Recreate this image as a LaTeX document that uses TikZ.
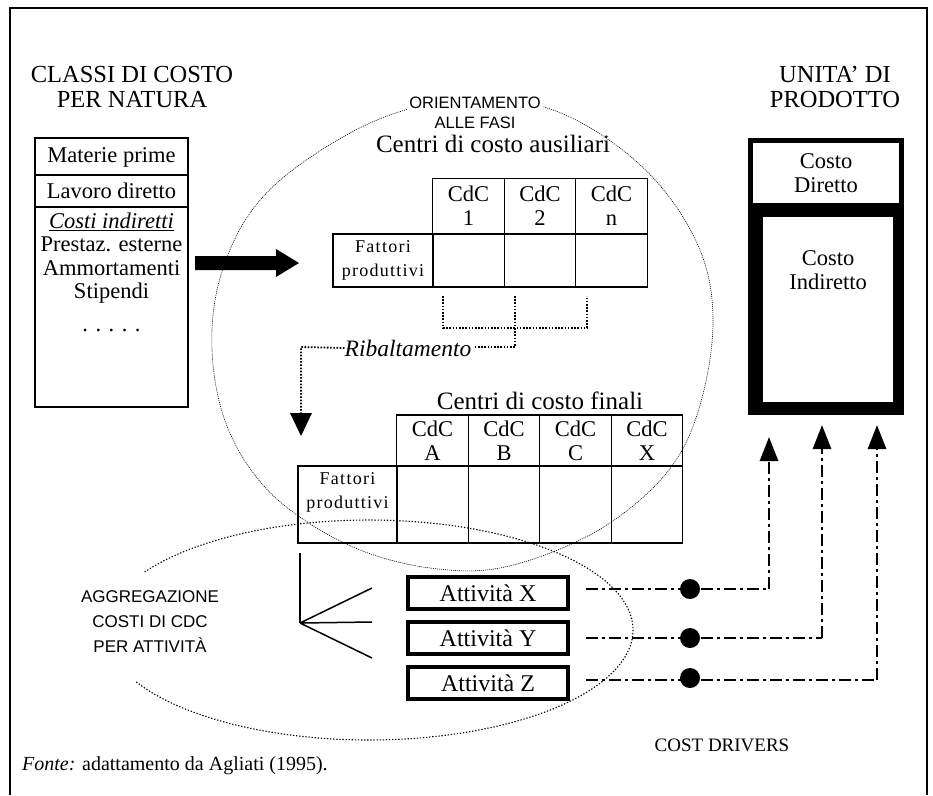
\documentclass[tikz,border=0pt]{standalone}
\usepackage{fontspec}
\setmainfont{Liberation Serif}
\newfontfamily\labelsans{Liberation Sans}
\newfontfamily\widefont[LetterSpace=7]{Liberation Serif}
\usetikzlibrary{arrows.meta}

\newcommand{\fs}[2]{\fontsize{#1}{#2}\selectfont}

\begin{document}
\begin{tikzpicture}[x=1pt,y=-1pt,
  title/.style={align=center,font=\fs{24.5}{25},inner sep=0pt},
  cell/.style={draw,line width=1.1pt,inner sep=0pt,align=center},
  hcell/.style={cell,minimum width=71.5pt,minimum height=55pt,font=\fs{22.5}{24}},
  ecell/.style={cell,minimum width=71.5pt,minimum height=53pt},
  fcell/.style={cell,minimum height=53pt,font=\widefont\fs{18}{24}},
  heading/.style={inner sep=0pt,font=\fs{25}{25}},
  boxtext/.style={inner sep=0pt,align=center,font=\fs{22.5}{23.5}},
  actbox/.style={draw,line width=3.6pt,minimum width=160pt,minimum height=32pt,inner sep=0pt,font=\fs{24}{24}},
  drv/.style={line width=2.8pt,dash pattern=on 12pt off 4pt on 3pt off 4pt},
  drvtip/.style={-{Triangle[length=24pt,width=18pt]}},
  rib/.style={line width=1.8pt,dash pattern=on 1.6pt off 1.6pt},
  ringline/.style={line width=0.6pt,dash pattern=on 1pt off 1pt},
  aggline/.style={line width=1.1pt,dash pattern=on 1.3pt off 1.8pt},
  sanslabel/.style={align=center,font=\labelsans\fs{16.5}{20},inner sep=2pt}
]
\useasboundingbox (0,0) rectangle (933,795);

% outer frame, open at the bottom
\draw[line width=1.3pt] (10,795) -- (10,8) -- (927,8) -- (927,795);

% ---- column titles
\node[title] (tl) at (132,87) {CLASSI DI COSTO\\PER NATURA};
\node[title] (tr) at (835,87) {UNITA' DI\\PRODOTTO};

% ---- cost classes by nature
\draw[line width=1.2pt] (35,138) rectangle (188,407);
\draw[line width=1.2pt] (35,175) -- (188,175) (35,207) -- (188,207);
\node[boxtext] (mp) at (111.5,157) {Materie prime};
\node[boxtext] (ld) at (111.5,191) {Lavoro diretto};
\node[boxtext] (ci) at (111.5,258)
  {\underline{\itshape Costi indiretti}\\Prestaz. esterne\\Ammortamenti\\Stipendi};
\node[boxtext] (dots) at (111.5,330) {. . . . .};

% ---- phase orientation ring
\draw[ringline] plot[smooth cycle,tension=0.6] coordinates {
  (475,97) (553,110) (620,148) (670,198) (703,258) (713,320) (704,390)
  (681,452) (640,500) (580,540) (500,568) (430,568) (360,550) (297,515)
  (254,474) (224,418) (212,350) (219,282) (248,216) (298,166) (382,118)};
\node[sanslabel,fill=white] (orient) at (475,113) {ORIENTAMENTO\\ALLE FASI};

% ---- big arrow into the auxiliary centres
\fill (195,256) -- (276,256) -- (276,249) -- (299,263) -- (276,277) -- (276,270) -- (195,270) -- cycle;

% ---- auxiliary cost centres
\node[heading] (auxh) at (493,144) {Centri di costo ausiliari};
\node[hcell] (a1) at (468.5,206) {CdC\\1};
\node[hcell] (a2) at (540,206) {CdC\\2};
\node[hcell] (an) at (611.5,206) {CdC\\n};
\node[fcell,minimum width=100pt] (af) at (383,260.5) {Fattori\\produttivi};
\node[ecell] (ae1) at (468.5,260.5) {};
\node[ecell] (ae2) at (540,260.5) {};
\node[ecell] (aen) at (611.5,260.5) {};

% ---- reallocation bracket
\coordinate (b1) at (443,296);
\coordinate (b2) at (515,296);
\coordinate (b3) at (587,296);
\draw[rib] (b1) -- (443,328) -- (587,328) -- (b3);
\draw[rib] (b2) -- (515,347) -- (474,347);
\node[font=\itshape\fs{23.5}{24},inner sep=0pt] (ribt) at (408,348) {Ribaltamento};
\coordinate (rtip) at (301,436);
\draw[rib] (ribt.west) -- (301,347) -- (301,414);
\fill (rtip) -- (290,413) -- (312,413) -- cycle;

% ---- final cost centres
\node[heading] (finh) at (540,401) {Centri di costo finali};
\node[hcell,minimum height=51pt] (fa) at (432.5,440.5) {CdC\\A};
\node[hcell,minimum height=51pt] (fb) at (504,440.5) {CdC\\B};
\node[hcell,minimum height=51pt] (fc) at (575.5,440.5) {CdC\\C};
\node[hcell,minimum height=51pt] (fx) at (647,440.5) {CdC\\X};
\node[cell,minimum width=99pt,minimum height=77pt] (ff) at (347.5,504.5) {};
\node[align=center,font=\widefont\fs{18}{24},inner sep=0pt] (fft) at (347.5,492) {Fattori\\produttivi};
\node[ecell,minimum height=77pt] (fe1) at (432.5,504.5) {};
\node[ecell,minimum height=77pt] (fe2) at (504,504.5) {};
\node[ecell,minimum height=77pt] (fe3) at (575.5,504.5) {};
\node[ecell,minimum height=77pt] (fe4) at (647,504.5) {};

% ---- activity aggregation ellipse
\draw[aggline] plot[domain=211.8:512,samples=160,variable=\t]
  ({369+264*cos(\t)},{630+110*sin(\t)});
\node[sanslabel,font=\labelsans\fs{17}{25}] (aggr) at (150,622)
  {AGGREGAZIONE\\COSTI DI CDC\\PER ATTIVIT\`A};

% ---- activities
\node[actbox] (ax) at (488,593) {Attivit\`a X};
\node[actbox] (ay) at (488,638) {Attivit\`a Y};
\node[actbox] (az) at (488,683) {Attivit\`a Z};

% ---- fan from the final centres to the activities
\coordinate (ftop) at (300,553);
\coordinate (froot) at (300,623);
\coordinate (fx1) at (372,588);
\coordinate (fx2) at (372,622);
\coordinate (fx3) at (372,658);
\draw[line width=1.5pt] (ftop) -- (froot);
\draw[line width=1.5pt] (froot) -- (fx1) (froot) -- (fx2) (froot) -- (fx3);

% ---- cost drivers
\coordinate (sx) at ([xshift=16pt,yshift=4pt]ax.east);
\coordinate (sy) at ([xshift=16pt]ay.east);
\coordinate (sz) at ([xshift=16pt,yshift=3pt]az.east);
\coordinate (ux) at (769,589);
\coordinate (uy) at (822,638);
\coordinate (uz) at (877,680);
\coordinate (tx) at (769,437);
\coordinate (ty) at (822,425);
\coordinate (tz) at (877,425);
\draw[drv] (sx) -- (ux);
\draw[drv] (sy) -- (uy);
\draw[drv] (sz) -- (uz);
\draw[drv,drvtip] (ux) -- (tx);
\draw[drv,drvtip] (uy) -- (ty);
\draw[drv,drvtip] (uz) -- (tz);
\fill (690,589) circle (10pt) (690,638) circle (10pt) (690,678) circle (10pt);
\node[font=\fs{19}{20},inner sep=0pt] (cd) at (722,745) {COST DRIVERS};

% ---- product unit
\node[fill=black,minimum width=156pt,minimum height=277pt,inner sep=0pt] (unit) at (826,276.5) {};
\node[fill=white,minimum width=146pt,minimum height=60pt,boxtext] (cdir) at (826,173) {Costo\\Diretto};
\node[fill=white,minimum width=130pt,minimum height=185pt,inner sep=0pt] (cind) at (828,309.5) {};
\node[boxtext] (cindt) at (828,270) {Costo\\Indiretto};

% ---- source note
\node[anchor=west,font=\fs{20}{22},inner sep=0pt] (src) at (22,766) {\textit{Fonte:} adattamento da Agliati (1995).};
\end{tikzpicture}
\end{document}
